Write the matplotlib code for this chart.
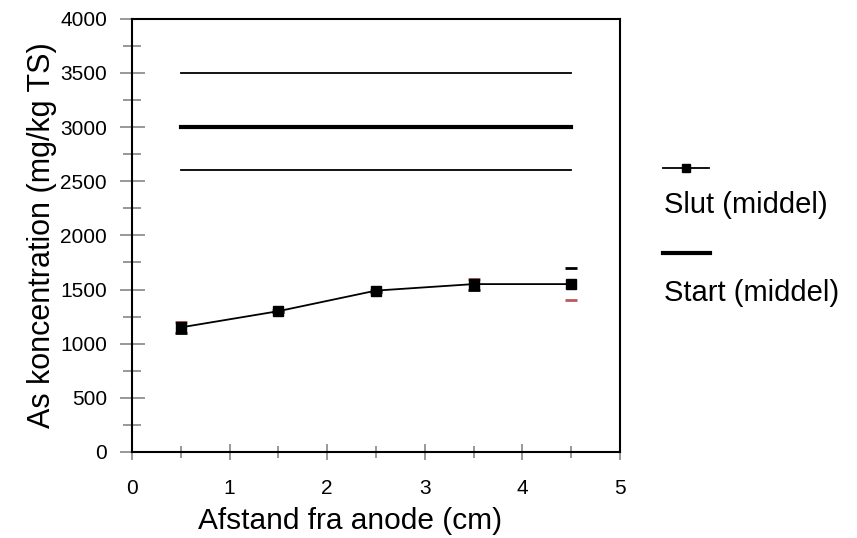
import matplotlib
matplotlib.use("Agg")
import matplotlib.pyplot as plt
from matplotlib.lines import Line2D
from matplotlib.ticker import MultipleLocator

plt.rcParams['font.family'] = ['Liberation Sans', 'DejaVu Sans']

# Data
afstand = [0.5, 1.5, 2.5, 3.5, 4.5]
slut_middel = [1150, 1300, 1490, 1550, 1550]
slut_maaling1 = [1100, 1290, 1480, 1500, 1700]   # black caps
slut_maaling2 = [1200, 1310, 1500, 1600, 1400]   # red caps
start_middel = [3000, 3000, 3000, 3000, 3000]
start_max = [3500, 3500, 3500, 3500, 3500]
start_min = [2600, 2600, 2600, 2600, 2600]

x_ticks = [0, 1, 2, 3, 4, 5]
y_ticks = [0, 500, 1000, 1500, 2000, 2500, 3000, 3500, 4000]

fig = plt.figure(figsize=(8.57, 5.38), dpi=100)
ax = fig.add_axes([0.154, 0.160, 0.5695, 0.805])

# Start lines
ax.plot(afstand, start_max, color='black', lw=1.3, solid_capstyle='projecting')
ax.plot(afstand, start_min, color='black', lw=1.3, solid_capstyle='projecting')
ax.plot(afstand, start_middel, color='black', lw=3)

# Slut caps
ax.plot(afstand, slut_maaling2, ls='none', marker='_', ms=9, mew=2, color='#b85a5a')
ax.plot(afstand, slut_maaling1, ls='none', marker='_', ms=9, mew=2, color='black')
# Slut mean
ax.plot(afstand, slut_middel, color='black', lw=1.3, marker='s', ms=6.5)

ax.set_xlim(0, 5)
ax.set_ylim(0, 4000)
ax.set_xticks(x_ticks)
ax.set_yticks(y_ticks)
ax.xaxis.set_minor_locator(MultipleLocator(0.5))
ax.yaxis.set_minor_locator(MultipleLocator(250))

ax.tick_params(axis='y', which='major', direction='inout', length=18, width=1.3,
               color='#909090', labelsize=15, pad=9)
ax.tick_params(axis='y', which='minor', direction='inout', length=13, width=1.3,
               color='#909090')
ax.tick_params(axis='x', which='major', direction='inout', length=11, width=1.3,
               color='#909090', labelsize=15, pad=14)
ax.tick_params(axis='x', which='minor', direction='inout', length=8, width=1.3,
               color='#909090')
ax.tick_params(top=False, right=False)

for s in ax.spines.values():
    s.set_linewidth(1.5)
    s.set_color('black')

ax.set_xlabel('Afstand fra anode (cm)', fontsize=21.5)
ax.xaxis.set_label_coords(0.447, -0.159, transform=ax.transAxes)
ax.xaxis.label.set_va('center')
ax.set_ylabel('As koncentration (mg/kg TS)', fontsize=22, labelpad=2)

# Legend (manual, outside to the right)
fig.add_artist(Line2D([663/857, 709/857], [1-168/538, 1-168/538], color='black', lw=1.3,
                      transform=fig.transFigure))
fig.add_artist(Line2D([686/857], [1-168/538], color='black', marker='s', ms=5.5,
                      transform=fig.transFigure))
fig.text(664/857, 1-205/538, 'Slut (middel)', fontsize=21, va='center', ha='left')
fig.add_artist(Line2D([663/857, 710/857], [1-253/538, 1-253/538], color='black', lw=3,
                      transform=fig.transFigure))
fig.text(664/857, 1-293/538, 'Start (middel)', fontsize=21, va='center', ha='left')

fig.savefig('out.png', dpi=100)
